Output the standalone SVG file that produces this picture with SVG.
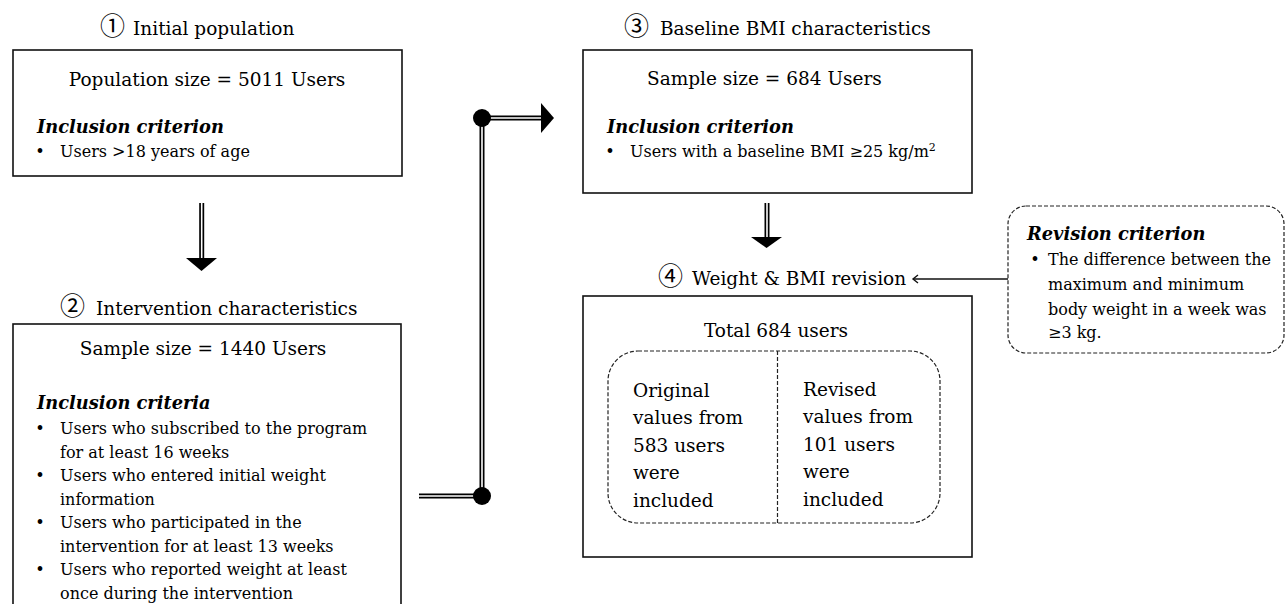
<svg xmlns="http://www.w3.org/2000/svg" width="1285" height="604" viewBox="0 0 1285 604">
<style>
text{font-family:"DejaVu Serif","Liberation Serif",serif;fill:#000;}
.ti{font-size:18.5px;}
.hd{font-size:18.5px;}
.bi{font-size:17.8px;font-weight:bold;font-style:italic;}
.bl{font-size:16px;}
.c{font-family:"Noto Sans CJK JP","DejaVu Sans",sans-serif;font-size:25px;}
.box{fill:#fff;stroke:#111;stroke-width:1.6;}
.dash{fill:none;stroke:#222;stroke-width:1.2;stroke-dasharray:4 2;}
.dbo{fill:none;stroke:#000;stroke-width:5;}
.dbi{fill:none;stroke:#fff;stroke-width:1.6;}
</style>

<g id="connectors">
  <polyline class="dbo" points="419,496 482,496 482,118 542,118"/>
  <polyline class="dbi" points="419,496 482,496 482,118 542,118"/>
  <circle cx="482" cy="496" r="9" fill="#000"/>
  <circle cx="482" cy="118" r="9" fill="#000"/>
  <polygon points="541,103 554,118 541,133" fill="#000"/>
  <line class="dbo" x1="201.7" y1="203" x2="201.7" y2="259"/>
  <line class="dbi" x1="201.7" y1="203" x2="201.7" y2="259"/>
  <polygon points="186,258 217,258 201.5,271" fill="#000"/>
  <line class="dbo" x1="767" y1="203" x2="767" y2="238"/>
  <line class="dbi" x1="767" y1="203" x2="767" y2="238"/>
  <polygon points="751,237 782,237 766.5,248" fill="#000"/>
  <line x1="1008" y1="279" x2="913" y2="279" stroke="#111" stroke-width="1.4"/>
  <polyline points="918,275 913,279 918,283" fill="none" stroke="#111" stroke-width="1.4"/>
</g>

<g id="node1">
  <text class="ti" y="35"><tspan class="c" x="100">① </tspan><tspan x="133">Initial population</tspan></text>
  <rect class="box" x="13" y="50" width="389" height="126"/>
  <text class="hd" x="207" y="86" text-anchor="middle">Population size = 5011 Users</text>
  <text class="bi" x="37" y="133">Inclusion criterion</text>
  <text class="bl" x="40" y="157" text-anchor="middle">•</text>
  <text class="bl" x="60" y="157">Users &gt;18 years of age</text>
</g>

<g id="node2">
  <text class="ti" y="315"><tspan class="c" x="60">② </tspan><tspan x="96">Intervention characteristics</tspan></text>
  <rect class="box" x="13" y="324" width="388" height="300"/>
  <text class="hd" x="203" y="355" text-anchor="middle">Sample size = 1440 Users</text>
  <text class="bi" x="37" y="409">Inclusion criteria</text>
  <g class="bl">
    <text class="bl" x="40" y="434" text-anchor="middle">•</text>
    <text class="bl" x="60" y="434">Users who subscribed to the program</text>
    <text class="bl" x="60" y="457.5">for at least 16 weeks</text>
    <text class="bl" x="40" y="481" text-anchor="middle">•</text>
    <text class="bl" x="60" y="481">Users who entered initial weight</text>
    <text class="bl" x="60" y="504.5">information</text>
    <text class="bl" x="40" y="528" text-anchor="middle">•</text>
    <text class="bl" x="60" y="528">Users who participated in the</text>
    <text class="bl" x="60" y="551.5">intervention for at least 13 weeks</text>
    <text class="bl" x="40" y="575" text-anchor="middle">•</text>
    <text class="bl" x="60" y="575">Users who reported weight at least</text>
    <text class="bl" x="60" y="598.5">once during the intervention</text>
  </g>
</g>

<g id="node3">
  <text class="ti" y="35"><tspan class="c" x="624">③ </tspan><tspan x="660">Baseline BMI characteristics</tspan></text>
  <rect class="box" x="583" y="50" width="389" height="143"/>
  <text class="hd" x="647" y="85">Sample size = 684 Users</text>
  <text class="bi" x="607" y="133">Inclusion criterion</text>
  <text class="bl" x="610" y="157" text-anchor="middle">•</text>
  <text class="bl" x="630" y="157">Users with a baseline BMI ≥25 kg/m<tspan font-size="11" dy="-6">2</tspan></text>
</g>

<g id="node4">
  <text class="ti" y="285"><tspan class="c" x="658">④ </tspan><tspan x="692">Weight &amp; BMI revision</tspan></text>
  <rect class="box" x="583" y="296" width="389" height="261"/>
  <text class="hd" x="776" y="337" text-anchor="middle">Total 684 users</text>
  <rect class="dash" x="608" y="351" width="332" height="172" rx="30"/>
  <line class="dash" x1="777.5" y1="351" x2="777.5" y2="523"/>
  <text class="hd" x="633" y="397">Original</text>
  <text class="hd" x="633" y="424">values from</text>
  <text class="hd" x="633" y="452">583 users</text>
  <text class="hd" x="633" y="479">were</text>
  <text class="hd" x="633" y="507">included</text>
  <text class="hd" x="803" y="396">Revised</text>
  <text class="hd" x="803" y="423">values from</text>
  <text class="hd" x="803" y="451">101 users</text>
  <text class="hd" x="803" y="478">were</text>
  <text class="hd" x="803" y="506">included</text>
</g>

<g id="revision">
  <rect class="dash" x="1008" y="206" width="276" height="147" rx="18"/>
  <text class="bi" x="1027" y="240">Revision criterion</text>
  <text class="bl" x="1035" y="265" text-anchor="middle">•</text>
  <text class="bl" x="1048" y="265">The difference between the</text>
  <text class="bl" x="1048" y="290">maximum and minimum</text>
  <text class="bl" x="1048" y="315">body weight in a week was</text>
  <text class="bl" x="1048" y="338">≥3 kg.</text>
</g>
</svg>
